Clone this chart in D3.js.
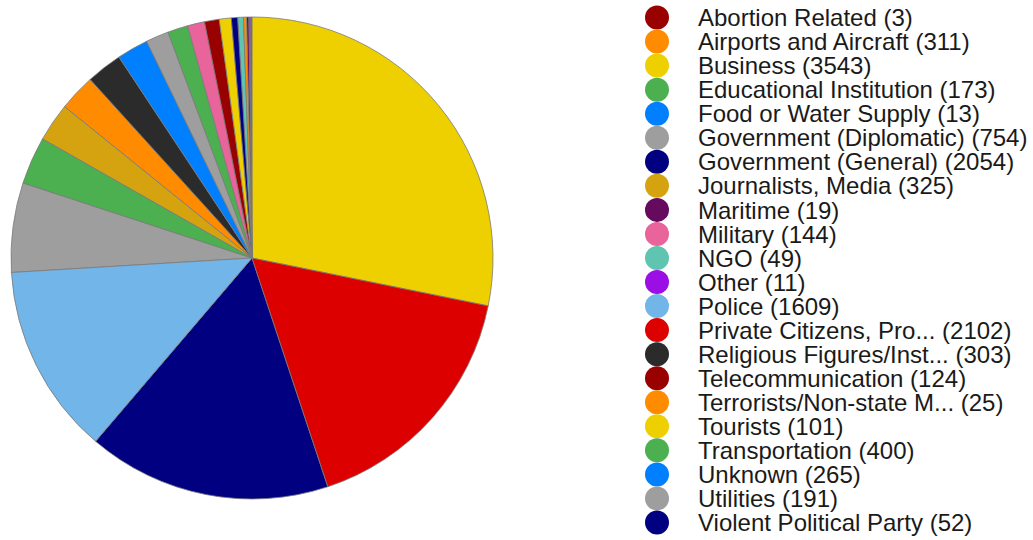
<!DOCTYPE html>
<html>
<head>
<meta charset="utf-8">
<script src="https://cdn.jsdelivr.net/npm/d3@7"></script>
<style>
  html, body { margin: 0; padding: 0; background: #fff; }
  svg { display: block; }
</style>
</head>
<body>
<svg id="chart" width="1033" height="540"></svg>
<script>
// Target categories and their event counts
const categories = [
  "Abortion Related", "Airports and Aircraft", "Business", "Educational Institution",
  "Food or Water Supply", "Government (Diplomatic)", "Government (General)",
  "Journalists, Media", "Maritime", "Military", "NGO", "Other", "Police",
  "Private Citizens, Pro...", "Religious Figures/Inst...", "Telecommunication",
  "Terrorists/Non-state M...", "Tourists", "Transportation", "Unknown",
  "Utilities", "Violent Political Party"
];
const counts = [3, 311, 3543, 173, 13, 754, 2054, 325, 19, 144, 49, 11, 1609,
  2102, 303, 124, 25, 101, 400, 265, 191, 52];
const colors = [
  "#990000", "#ff8c00", "#eed000", "#4caf50", "#0080ff", "#9e9e9e", "#000080",
  "#d4a30f", "#660a5e", "#e8649a", "#5fc4b0", "#9b0ee6", "#72b5e8",
  "#dd0000", "#2b2b2b", "#990000", "#ff8c00", "#eed000", "#4caf50", "#0080ff",
  "#9e9e9e", "#000080"
];

const data = categories.map((c, i) => ({ name: c, value: counts[i], color: colors[i] }));

const svg = d3.select("#chart");
const cx = 252, cy = 258, radius = 241;

// Slices ordered largest first, clockwise from 12 o'clock
const pie = d3.pie().value(d => d.value).sort((a, b) => b.value - a.value);
const arc = d3.arc().innerRadius(0).outerRadius(radius);

svg.append("g")
  .attr("transform", `translate(${cx},${cy})`)
  .selectAll("path")
  .data(pie(data))
  .join("path")
  .attr("d", arc)
  .attr("fill", d => d.data.color)
  .attr("stroke", "#7a7a7a")
  .attr("stroke-width", 0.8)
  .attr("stroke-linejoin", "round");

// Legend in original category order
const legendY = d3.scaleLinear().domain([0, categories.length - 1]).range([17.5, 522.5]);
const legend = svg.append("g").selectAll("g")
  .data(data)
  .join("g")
  .attr("transform", (d, i) => `translate(0,${legendY(i)})`);

legend.append("circle")
  .attr("cx", 657)
  .attr("cy", 0)
  .attr("r", 12)
  .attr("fill", d => d.color);

legend.append("text")
  .attr("x", 698)
  .attr("y", 0)
  .attr("dy", "0.36em")
  .attr("font-family", "Arial, 'Liberation Sans', sans-serif")
  .attr("font-size", 24)
  .attr("fill", "#1a1a1a")
  .text((d, i) => `${d.name} (${counts[i]})`);
</script>
</body>
</html>
